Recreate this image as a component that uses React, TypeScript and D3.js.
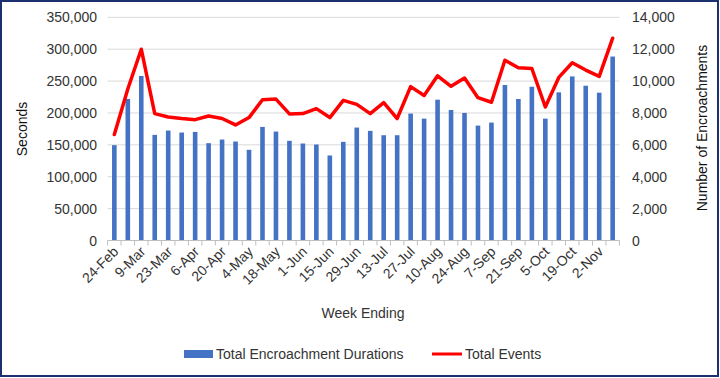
import React from "react";
import * as d3 from "d3";

const weeks = [
  "24-Feb","2-Mar","9-Mar","16-Mar","23-Mar","30-Mar","6-Apr","13-Apr","20-Apr","27-Apr",
  "4-May","11-May","18-May","25-May","1-Jun","8-Jun","15-Jun","22-Jun","29-Jun","6-Jul",
  "13-Jul","20-Jul","27-Jul","3-Aug","10-Aug","17-Aug","24-Aug","31-Aug","7-Sep","14-Sep",
  "21-Sep","28-Sep","5-Oct","12-Oct","19-Oct","26-Oct","2-Nov","9-Nov"
];
const durations = [
  149500,222000,258000,165600,172400,169300,170300,152600,158300,155200,
  142200,178100,170800,156300,152100,150500,133300,154700,177100,171900,
  165100,165100,199000,191100,220800,204700,200000,180200,184900,243800,
  221900,241100,191100,232300,257300,242700,231800,288500
];
const events = [
  6650,9500,12000,7960,7750,7650,7580,7810,7650,7250,
  7710,8830,8870,7940,7960,8270,7710,8790,8540,7960,
  8650,7650,9650,9100,10330,9670,10190,8960,8670,11310,
  10830,10790,8375,10230,11150,10690,10290,12690
];
const leftTicks = [0,50000,100000,150000,200000,250000,300000,350000];
const rightTicks = [0,2000,4000,6000,8000,10000,12000,14000];

const W = 720, H = 378;
const FONT = "'Liberation Sans', Arial, sans-serif";

export default function App() {
  const x = d3.scaleBand<string>().domain(weeks).range([107.6, 619.4]).paddingInner(0).paddingOuter(0);
  const yL = d3.scaleLinear().domain([0, 350000]).range([240.5, 17.3]);
  const yR = d3.scaleLinear().domain([0, 14000]).range([240.5, 17.3]);
  const fmt = d3.format(",");
  const bw = 4.6;
  const line = d3.line<number>()
    .x((_, i) => (x(weeks[i]) as number) + x.bandwidth() / 2)
    .y((d) => yR(d));

  return (
    <div style={{ position: "fixed", left: 0, top: 0, width: W, height: H, background: "#fff" }}>
      <svg width={W} height={H} style={{ display: "block", fontFamily: FONT }}>
        <rect x={0} y={0} width={W} height={H} fill="#fff" />
        {leftTicks.map((t) => (
          <line key={"g" + t} x1={107.6} x2={619.4} y1={yL(t)} y2={yL(t)} stroke="#d9d9d9" strokeWidth={1} />
        ))}
        {durations.map((d, i) => (
          <rect key={"b" + i}
            x={(x(weeks[i]) as number) + x.bandwidth() / 2 - bw / 2}
            y={yL(d)} width={bw} height={yL(0) - yL(d)} fill="#4472C4" />
        ))}
        <line x1={107.6} x2={619.4} y1={yL(0)} y2={yL(0)} stroke="#bfbfbf" strokeWidth={1} />
        {weeks.map((w, i) => (
          <line key={"t" + i} x1={x(w) as number} x2={x(w) as number} y1={yL(0)} y2={yL(0) + 5} stroke="#bfbfbf" />
        ))}
        <line x1={619.4} x2={619.4} y1={yL(0)} y2={yL(0) + 5} stroke="#bfbfbf" />
        <path d={line(events) || ""} fill="none" stroke="#ff0000" strokeWidth={3.5} strokeLinejoin="round" strokeLinecap="round" />
        {leftTicks.map((t) => (
          <text key={"l" + t} x={97} y={yL(t) + 5} textAnchor="end" fontSize={14} fill="#333">{fmt(t)}</text>
        ))}
        {rightTicks.map((t) => (
          <text key={"r" + t} x={632} y={yR(t) + 5} textAnchor="start" fontSize={14} fill="#333">{fmt(t)}</text>
        ))}
        {weeks.map((w, i) => i % 2 === 0 ? (
          <text key={"xl" + i} textAnchor="end" fontSize={14} fill="#333"
            transform={`translate(${(x(w) as number) + x.bandwidth() / 2 + 5},${yL(0) + 12}) rotate(-45)`}>{w}</text>
        ) : null)}
        <text x={22} y={129} textAnchor="middle" fontSize={14} fill="#111" transform="rotate(-90,22,129)" dy="0.35em">Seconds</text>
        <text x={702} y={128} textAnchor="middle" fontSize={14} fill="#111" transform="rotate(-90,702,128)" dy="0.35em">Number of Encroachments</text>
        <text x={363} y={318} textAnchor="middle" fontSize={14} fill="#333">Week Ending</text>
        <rect x={184} y={350} width={29} height={8} fill="#4472C4" />
        <text x={216} y={359} fontSize={14} fill="#333">Total Encroachment Durations</text>
        <line x1={432} x2={462} y1={354} y2={354} stroke="#ff0000" strokeWidth={3} />
        <text x={465} y={359} fontSize={14} fill="#333">Total Events</text>
        <rect x={1} y={1} width={W - 3} height={H - 3} fill="none" stroke="#1c2f6e" strokeWidth={2} />
      </svg>
    </div>
  );
}
